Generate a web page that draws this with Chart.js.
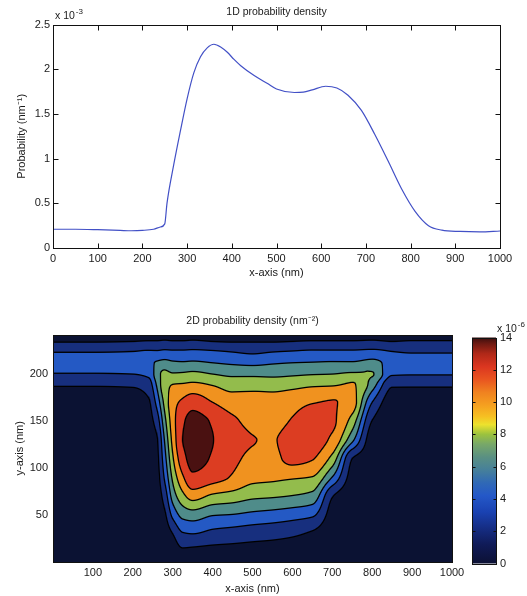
<!DOCTYPE html>
<html>
<head>
<meta charset="utf-8">
<script src="https://cdn.jsdelivr.net/npm/chart.js@4.4.1/dist/chart.umd.min.js"></script>
<style>
  html, body { margin: 0; padding: 0; background: #fff; }
  #wrap { position: relative; width: 527px; height: 596px; overflow: hidden; }
  canvas { position: absolute; }
</style>
</head>
<body>
<div id="wrap">
  <canvas id="lineChart" width="527" height="290" style="left:0;top:0"></canvas>
  <canvas id="contourChart" width="470" height="300" style="left:0;top:296px"></canvas>
  <canvas id="colorbarChart" width="57" height="300" style="left:470px;top:296px"></canvas>
</div>
<script>
"use strict";

// ===== 1D probability density (units of 1e-3 nm^-1) =====
const lineX = [0, 50, 100, 150, 175, 200, 225, 240, 250, 255, 270, 285, 300, 315, 330, 345, 360, 375, 390, 405,
    420, 450, 480, 500, 540, 560, 580, 610, 635, 660, 690, 720, 750, 780, 810, 840, 870, 910, 955, 1000];
const lineY = [0.21, 0.21, 0.205, 0.197, 0.193, 0.197, 0.21, 0.235, 0.27, 0.50, 0.93, 1.31, 1.67, 1.96, 2.14, 2.24, 2.28, 2.25, 2.19, 2.11,
    2.04, 1.93, 1.84, 1.78, 1.74, 1.745, 1.77, 1.81, 1.79, 1.71, 1.54, 1.27, 0.97, 0.66, 0.41, 0.25, 0.20, 0.185, 0.18, 0.19];
const lineXTicks = [0, 100, 200, 300, 400, 500, 600, 700, 800, 900, 1000];
const lineYTicks = [0, 0.5, 1, 1.5, 2, 2.5];

// ===== 2D probability density (units of 1e-6 nm^-2) =====
// grid nodes in nm; each column below lists the values at gridY for one gridX
const gridX = [0, 100, 200, 240, 260, 280, 300, 325, 350, 400, 450, 500, 550, 600, 650, 700, 750, 800, 850, 900, 1000];
const gridY = [0, 15, 30, 50, 70, 90, 110, 130, 150, 170, 190, 200, 212, 224, 234, 242];
const densityByColumn = [
    [0.1, 0.1, 0.1, 0.1, 0.1, 0.15, 0.2, 0.25, 0.4, 0.9, 2.3, 3.9, 4.9, 3.9, 2.0, 1.2],      // 0
    [0.1, 0.1, 0.1, 0.1, 0.1, 0.15, 0.2, 0.25, 0.4, 0.9, 2.3, 3.9, 4.9, 3.9, 2.0, 1.2],      // 100
    [0.1, 0.1, 0.1, 0.1, 0.1, 0.15, 0.2, 0.3, 0.5, 1.0, 2.4, 4.0, 5.0, 4.0, 2.1, 1.2],       // 200
    [0.1, 0.1, 0.1, 0.2, 0.3, 0.4, 0.6, 0.9, 1.3, 1.8, 3.2, 4.5, 5.5, 4.2, 2.2, 1.3],        // 240
    [0.2, 0.3, 0.4, 0.6, 0.9, 1.2, 1.5, 1.8, 2.9, 4.6, 6.3, 7.0, 6.2, 4.2, 2.2, 1.3],        // 260
    [0.3, 0.5, 0.9, 1.7, 2.9, 4.3, 5.3, 6.2, 7.4, 8.6, 9.3, 8.6, 6.6, 4.4, 2.3, 1.3],        // 280
    [0.4, 1.0, 2.0, 4.5, 6.8, 8.4, 9.7, 10.6, 11.1, 11.2, 9.9, 8.2, 6.3, 4.3, 2.2, 1.3],     // 300
    [0.5, 2.0, 3.8, 6.6, 9.4, 11.7, 13.3, 14.0, 13.7, 12.4, 10.0, 8.3, 6.2, 4.3, 2.2, 1.3],  // 325
    [0.5, 1.9, 4.0, 7.0, 10.8, 13.6, 14.6, 14.8, 14.6, 13.2, 10.2, 8.5, 6.3, 4.4, 2.3, 1.3], // 350
    [0.5, 1.7, 3.4, 6.1, 9.6, 12.8, 13.8, 14.05, 13.8, 12.0, 9.7, 8.0, 6.0, 4.2, 2.1, 1.2],  // 400
    [0.5, 1.6, 3.1, 5.9, 9.1, 11.8, 12.4, 12.6, 12.3, 11.0, 9.0, 7.6, 5.7, 3.9, 2.0, 1.2],   // 450
    [0.6, 1.5, 2.8, 5.5, 8.4, 10.6, 11.7, 12.05, 11.6, 11.0, 9.0, 7.6, 5.5, 3.6, 2.0, 1.3],  // 500
    [0.6, 1.4, 2.6, 5.2, 8.2, 10.4, 11.6, 11.9, 11.3, 10.8, 9.0, 7.5, 5.8, 3.9, 2.0, 1.3],   // 550
    [0.5, 1.2, 2.3, 4.8, 7.9, 10.2, 12.5, 12.7, 12.15, 11.3, 9.2, 7.7, 6.0, 4.1, 2.1, 1.3],  // 600
    [0.3, 0.8, 1.7, 4.3, 7.3, 9.9, 12.1, 12.8, 12.8, 11.9, 9.5, 7.9, 6.1, 4.3, 2.2, 1.3],    // 650
    [0.2, 0.3, 0.6, 1.2, 2.1, 5.9, 9.3, 11.6, 12.3, 12.1, 9.6, 8.0, 6.2, 4.3, 2.2, 1.3],     // 700
    [0.1, 0.2, 0.3, 0.5, 0.8, 1.3, 2.0, 6.5, 9.1, 10.9, 10.1, 8.3, 6.2, 4.3, 2.2, 1.3],      // 750
    [0.1, 0.1, 0.2, 0.3, 0.4, 0.6, 0.9, 1.0, 1.95, 4.0, 7.2, 8.1, 6.6, 4.5, 2.3, 1.3],       // 800
    [0.1, 0.1, 0.1, 0.1, 0.2, 0.2, 0.3, 0.4, 0.5, 1.0, 2.4, 4.2, 5.2, 4.0, 2.1, 1.2],        // 850
    [0.1, 0.1, 0.1, 0.1, 0.1, 0.15, 0.2, 0.25, 0.4, 0.9, 2.4, 4.1, 4.9, 3.8, 2.2, 1.3],      // 900
    [0.1, 0.1, 0.1, 0.1, 0.1, 0.15, 0.2, 0.25, 0.4, 0.9, 2.4, 4.1, 4.9, 3.8, 2.2, 1.3]       // 1000
];
const contourLevels = [2, 4, 6, 8, 10, 12, 14];
const contourXTicks = [100, 200, 300, 400, 500, 600, 700, 800, 900, 1000];
const contourYTicks = [50, 100, 150, 200];
const colorbarTicks = [0, 2, 4, 6, 8, 10, 12, 14];

// fill colour of each band (below 2, 2-4, ..., above 14)
const bandColors = ['#0b1233', '#172f7e', '#2459c4', '#4f8c8a', '#93bc4c', '#f0921f', '#dc3d22', '#4a1111'];
// colorbar gradient stops: [value, colour]
const colorbarStops = [
    [0, '#0c1134'], [1.2, '#101b58'], [2.2, '#152d84'], [3.2, '#1a42b2'], [4.2, '#2458c8'], [5.0, '#3069b6'],
    [5.8, '#46809a'], [6.6, '#5a9082'], [7.4, '#78a868'], [8.0, '#9bc23e'], [8.6, '#ece22e'], [9.1, '#f6c022'],
    [9.8, '#f5a020'], [10.6, '#f08220'], [11.4, '#e95520'], [12.2, '#db3620'], [13.0, '#b02818'], [13.6, '#701a12'],
    [14, '#3a0e0e']
];

const FONT = 'Liberation Sans, Arial, Helvetica, sans-serif';
const TEXT = '#1a1a1a';

// ===== helpers =====
function pchipSlopes(xs, ys) {
    const n = xs.length, h = [], del = [], d = new Array(n);
    for (let k = 0; k < n - 1; k++) {
        h[k] = xs[k + 1] - xs[k];
        del[k] = (ys[k + 1] - ys[k]) / h[k];
    }
    for (let k = 1; k < n - 1; k++) {
        if (del[k - 1] * del[k] <= 0) { d[k] = 0; continue; }
        const w1 = 2 * h[k] + h[k - 1], w2 = h[k] + 2 * h[k - 1];
        d[k] = (w1 + w2) / (w1 / del[k - 1] + w2 / del[k]);
    }
    d[0] = del[0];
    d[n - 1] = del[n - 2];
    return d;
}

function pchipEval(xs, ys, d, v) {
    const n = xs.length;
    if (v <= xs[0]) return ys[0];
    if (v >= xs[n - 1]) return ys[n - 1];
    let k = 0;
    while (xs[k + 1] < v) k++;
    const hk = xs[k + 1] - xs[k], t = (v - xs[k]) / hk, t2 = t * t, t3 = t2 * t;
    return (2 * t3 - 3 * t2 + 1) * ys[k] + (t3 - 2 * t2 + t) * hk * d[k] +
        (-2 * t3 + 3 * t2) * ys[k + 1] + (t3 - t2) * hk * d[k + 1];
}

function hexToRgb(hex) {
    const n = parseInt(hex.slice(1), 16);
    return [(n >> 16) & 255, (n >> 8) & 255, n & 255];
}

function fixedTicks(list) {
    return scale => { scale.ticks = list.map(v => ({ value: v })); };
}

const plainLabel = v => String(v);

// box round the plot area, with optional inward tick marks
const frameTicks = {
    id: 'frameTicks',
    afterDraw(chart, args, opts) {
        const { ctx, chartArea: a, scales } = chart;
        const l = Math.round(a.left) + 0.5, t = Math.round(a.top) + 0.5;
        const r = Math.round(a.right) + 0.5, b = Math.round(a.bottom) + 0.5;
        ctx.save();
        ctx.strokeStyle = '#111';
        ctx.lineWidth = 1;
        ctx.strokeRect(l, t, r - l, b - t);
        const len = opts.tickLen || 0;
        if (len > 0) {
            ctx.beginPath();
            const xs = scales.x, ys = scales.y;
            if (xs && xs.options.display !== false) {
                xs.ticks.forEach(tk => {
                    const p = Math.round(xs.getPixelForValue(tk.value)) + 0.5;
                    if (p <= l + 1 || p >= r - 1) return;
                    ctx.moveTo(p, b); ctx.lineTo(p, b - len);
                    ctx.moveTo(p, t); ctx.lineTo(p, t + len);
                });
            }
            ys.ticks.forEach(tk => {
                const p = Math.round(ys.getPixelForValue(tk.value)) + 0.5;
                if (p <= t + 1 || p >= b - 1) return;
                ctx.moveTo(l, p); ctx.lineTo(l + len, p);
                ctx.moveTo(r, p); ctx.lineTo(r - len, p);
            });
            ctx.stroke();
        }
        ctx.restore();
    }
};

// "x 10^n" multiplier text
const exponentLabel = {
    id: 'exponentLabel',
    afterDraw(chart, args, opts) {
        if (!opts.text) return;
        const { ctx } = chart;
        ctx.save();
        ctx.fillStyle = TEXT;
        ctx.textBaseline = 'alphabetic';
        ctx.font = '10.5px ' + FONT;
        ctx.fillText('x 10', opts.x, opts.y);
        const w = ctx.measureText('x 10').width;
        ctx.font = '8px ' + FONT;
        ctx.fillText(opts.text, opts.x + w + 1, opts.y - 5);
        ctx.restore();
    }
};

// filled contours drawn cell by cell from the density grid through the chart scales
const contourFill = {
    id: 'contourFill',
    beforeDatasetsDraw(chart) {
        const { ctx, chartArea: a, scales: { x, y } } = chart;
        const left = Math.round(a.left), top = Math.round(a.top);
        const w = Math.round(a.right) - left, h = Math.round(a.bottom) - top;
        const rows = gridY.map((_, j) => densityByColumn.map(col => col[j]));
        const rowSlopes = rows.map(row => pchipSlopes(gridX, row));
        const z = new Float32Array(w * h);
        const colVals = new Array(gridY.length);
        for (let c = 0; c < w; c++) {
            const xv = x.getValueForPixel(left + c + 0.5);
            for (let j = 0; j < gridY.length; j++) colVals[j] = pchipEval(gridX, rows[j], rowSlopes[j], xv);
            const s = pchipSlopes(gridY, colVals);
            for (let r = 0; r < h; r++) {
                const yv = y.getValueForPixel(top + r + 0.5);
                z[r * w + c] = pchipEval(gridY, colVals, s, yv);
            }
        }
        const rgb = bandColors.map(hexToRgb);
        const img = ctx.createImageData(w, h);
        const px = img.data;
        const lo = contourLevels[0], hi = contourLevels[contourLevels.length - 1], step = contourLevels[1] - contourLevels[0];
        for (let r = 0; r < h; r++) {
            for (let c = 0; c < w; c++) {
                const i = r * w + c, v = z[i];
                const band = Math.max(0, Math.min(bandColors.length - 1, Math.floor((v - lo) / step) + 1));
                const col = rgb[band];
                const gx = (z[r * w + Math.min(c + 1, w - 1)] - z[r * w + Math.max(c - 1, 0)]) / 2;
                const gy = (z[Math.min(r + 1, h - 1) * w + c] - z[Math.max(r - 1, 0) * w + c]) / 2;
                const g = Math.hypot(gx, gy) + 1e-9;
                const L = Math.min(hi, Math.max(lo, Math.round((v - lo) / step) * step + lo));
                const d = Math.abs(v - L) / g;
                const k = 1 - Math.max(0, Math.min(1, 1.15 - d));
                px[i * 4] = col[0] * k;
                px[i * 4 + 1] = col[1] * k;
                px[i * 4 + 2] = col[2] * k;
                px[i * 4 + 3] = 255;
            }
        }
        ctx.putImageData(img, left, top);
    }
};

// continuous colour scale of the colorbar
const colorbarFill = {
    id: 'colorbarFill',
    beforeDatasetsDraw(chart) {
        const { ctx, chartArea: a, scales: { y } } = chart;
        const y0 = y.getPixelForValue(colorbarTicks[0]);
        const y1 = y.getPixelForValue(colorbarTicks[colorbarTicks.length - 1]);
        const grad = ctx.createLinearGradient(0, y0, 0, y1);
        const span = colorbarTicks[colorbarTicks.length - 1] - colorbarTicks[0];
        colorbarStops.forEach(([v, c]) => grad.addColorStop((v - colorbarTicks[0]) / span, c));
        ctx.save();
        ctx.fillStyle = grad;
        ctx.fillRect(a.left, a.top, a.right - a.left, a.bottom - a.top);
        ctx.restore();
    }
};

const tickFont = { family: FONT, size: 11 };
const titleFont = { family: FONT, size: 11 };

// ===== top: 1D line =====
new Chart(document.getElementById('lineChart'), {
    type: 'line',
    data: {
        datasets: [{
            data: lineX.map((x, i) => ({ x, y: lineY[i] })),
            borderColor: '#4250c6',
            borderWidth: 1.2,
            pointRadius: 0,
            cubicInterpolationMode: 'monotone',
            fill: false
        }]
    },
    options: {
        responsive: false,
        animation: false,
        layout: { padding: { left: 0, right: 27, top: 0, bottom: 0 } },
        plugins: {
            legend: { display: false },
            tooltip: { enabled: false },
            title: {
                display: true, text: '1D probability density', fullSize: false,
                color: TEXT, font: { family: FONT, size: 10.5, weight: 'normal' },
                padding: { top: 6, bottom: 6 }
            },
            frameTicks: { tickLen: 5 },
            exponentLabel: { text: '-3', x: 55, y: 19 }
        },
        scales: {
            x: {
                type: 'linear', min: 0, max: 1000,
                afterBuildTicks: fixedTicks(lineXTicks),
                afterFit: s => { s.height = 42; },
                grid: { display: false, drawTicks: false },
                border: { display: false },
                ticks: { color: TEXT, font: tickFont, padding: 4, maxRotation: 0, callback: plainLabel },
                title: { display: true, text: 'x-axis (nm)', color: TEXT, font: titleFont, padding: { top: 0, bottom: 10 } }
            },
            y: {
                type: 'linear', min: 0, max: 2.5,
                afterBuildTicks: fixedTicks(lineYTicks),
                afterFit: s => { s.width = 53; },
                grid: { display: false, drawTicks: false },
                border: { display: false },
                ticks: { color: TEXT, font: tickFont, padding: 3, callback: plainLabel },
                title: { display: true, text: 'Probability (nm⁻¹)', color: TEXT, font: titleFont, padding: { top: 15, bottom: 0 } }
            }
        }
    },
    plugins: [frameTicks, exponentLabel]
});

// ===== bottom: 2D filled contour =====
new Chart(document.getElementById('contourChart'), {
    type: 'scatter',
    data: { datasets: [] },
    options: {
        responsive: false,
        animation: false,
        layout: { padding: { left: 0, right: 18, top: 0, bottom: 0 } },
        plugins: {
            legend: { display: false },
            tooltip: { enabled: false },
            title: {
                display: true, text: '2D probability density (nm⁻²)', fullSize: false,
                color: TEXT, font: { family: FONT, size: 10.5, weight: 'normal' },
                padding: { top: 19, bottom: 7 }
            },
            frameTicks: { tickLen: 0 }
        },
        scales: {
            x: {
                type: 'linear', min: 0, max: 1000,
                afterBuildTicks: fixedTicks(contourXTicks),
                afterFit: s => { s.height = 34; },
                grid: { display: false, drawTicks: false },
                border: { display: false },
                ticks: { color: TEXT, font: tickFont, padding: 4, maxRotation: 0, callback: plainLabel },
                title: { display: true, text: 'x-axis (nm)', color: TEXT, font: titleFont, padding: { top: 0, bottom: 0 } }
            },
            y: {
                type: 'linear', min: 0, max: 242,
                afterBuildTicks: fixedTicks(contourYTicks),
                afterFit: s => { s.width = 53; },
                grid: { display: false, drawTicks: false },
                border: { display: false },
                ticks: { color: TEXT, font: tickFont, padding: 5, callback: plainLabel },
                title: { display: true, text: 'y-axis (nm)', color: TEXT, font: titleFont, padding: { top: 13, bottom: 0 } }
            }
        }
    },
    plugins: [contourFill, frameTicks]
});

// ===== colorbar =====
new Chart(document.getElementById('colorbarChart'), {
    type: 'scatter',
    data: { datasets: [] },
    options: {
        responsive: false,
        animation: false,
        layout: { padding: { left: 2, right: 0, top: 41.5, bottom: 32.5 } },
        plugins: {
            legend: { display: false },
            tooltip: { enabled: false },
            frameTicks: { tickLen: 3 },
            exponentLabel: { text: '-6', x: 27, y: 36 }
        },
        scales: {
            x: { type: 'linear', display: false, min: 0, max: 1 },
            y: {
                type: 'linear', position: 'right', min: 0, max: 14,
                afterBuildTicks: fixedTicks(colorbarTicks),
                afterFit: s => { s.width = 31; },
                grid: { display: false, drawTicks: false },
                border: { display: false },
                ticks: { color: TEXT, font: tickFont, padding: 4, callback: plainLabel }
            }
        }
    },
    plugins: [colorbarFill, frameTicks, exponentLabel]
});
</script>
</body>
</html>
